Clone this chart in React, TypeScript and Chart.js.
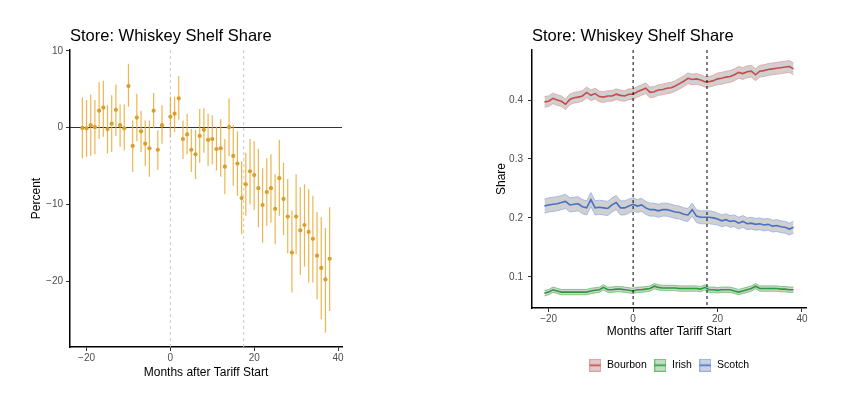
import React, { useEffect, useRef } from "react";
import { Chart, registerables } from "chart.js";

Chart.register(...registerables);

const FONT = "'Liberation Sans', Arial, Helvetica, sans-serif";

const chartTitle = "Store: Whiskey Shelf Share";
const xAxisTitle = "Months after Tariff Start";

// ---- Left panel: event-study estimates (percent) ----
const eventMonths = [
  -21, -20, -19, -18, -17, -16, -15, -14, -13, -12, -11, -10, -9, -8, -7, -6, -5, -4, -3, -2,
  0, 1, 2, 3, 4, 5, 6, 7, 8, 9, 10, 11, 12, 13, 14, 15, 16, 17, 18, 19,
  20, 21, 22, 23, 24, 25, 26, 27, 28, 29, 30, 31, 32, 33, 34, 35, 36, 37, 38,
];
const estimate = [
  -0.05, -0.1, 0.3, 0.05, 2.2, 2.6, -0.2, 0.5, 2.3, 0.3, -0.1, 5.4, -2.4, 1.3, -0.5, -2.1, -2.7, 2.2, -2.9, 0.3,
  1.4, 1.8, 3.8, -1.5, -0.9, -2.9, -3.5, -1.1, -0.3, -1.6, -1.5, -2.8, -2.7, -5.1, 0.05, -3.7, -4.7, -9.2, -7.4, -5.7,
  -6.2, -7.9, -10.1, -8.4, -7.9, -10.6, -6.6, -9.3, -11.6, -16.3, -11.6, -13.4, -12.7, -13.6, -14.5, -16.7, -18.3, -19.8, -17.1,
];
const ciLow = [
  -4.0, -3.8, -3.7, -3.5, -1.5, -1.2, -3.4, -3.2, -1.1, -2.5, -3.0, 2.7, -5.8, -1.8, -3.2, -5.0, -6.4, -0.1, -5.5, -2.1,
  -1.3, -0.6, 1.0, -4.1, -3.5, -5.8, -6.7, -4.6, -3.3, -5.0, -4.8, -5.6, -6.4, -8.7, -3.7, -7.6, -8.9, -13.9, -11.5, -10.0,
  -10.7, -13.0, -15.0, -12.8, -12.4, -15.2, -11.5, -14.0, -16.4, -21.5, -16.5, -19.2, -18.1, -20.2, -20.2, -22.4, -25.0, -26.7, -23.9,
];
const ciHigh = [
  3.9, 3.6, 4.3, 3.6, 5.9, 6.1, 2.9, 4.2, 5.6, 3.0, 3.0, 8.3, 0.9, 4.4, 2.2, 0.9, 0.9, 4.5, -0.4, 2.9,
  4.0, 4.0, 6.7, 0.9, 1.8, -0.2, -0.3, 2.4, 2.5, 1.8, 1.6, 0.1, 1.1, -1.5, 3.8, 0.3, -0.5, -4.4, -3.3, -1.5,
  -1.8, -2.8, -5.3, -4.0, -3.5, -6.1, -1.6, -4.6, -6.7, -10.8, -6.1, -7.8, -7.4, -8.0, -8.9, -11.0, -11.7, -13.1, -10.4,
];

// ---- Right panel: shelf share by type ----
const shareMonths = [
  -21, -20, -19, -18, -17, -16, -15, -14, -13, -12, -11, -10, -9, -8, -7, -6, -5, -4, -3, -2, -1,
  0, 1, 2, 3, 4, 5, 6, 7, 8, 9, 10, 11, 12, 13, 14, 15, 16, 17, 18, 19,
  20, 21, 22, 23, 24, 25, 26, 27, 28, 29, 30, 31, 32, 33, 34, 35, 36, 37, 38,
];
const bourbon = [
  0.397, 0.398, 0.403, 0.4, 0.398, 0.393, 0.401, 0.404, 0.405, 0.407, 0.413, 0.408, 0.411, 0.406, 0.405, 0.407, 0.407, 0.41, 0.408, 0.407, 0.41,
  0.41, 0.414, 0.417, 0.42, 0.413, 0.414, 0.417, 0.418, 0.42, 0.421, 0.424, 0.428, 0.432, 0.437, 0.435, 0.436, 0.434, 0.431, 0.431, 0.433,
  0.436, 0.437, 0.439, 0.44, 0.443, 0.447, 0.445, 0.448, 0.449, 0.443, 0.449, 0.45, 0.452, 0.453, 0.454, 0.455, 0.456, 0.457, 0.453,
];
const irish = [
  0.072, 0.074, 0.078, 0.076, 0.074, 0.074, 0.074, 0.074, 0.074, 0.074, 0.074, 0.076, 0.077, 0.078, 0.082, 0.078, 0.078, 0.079, 0.079, 0.078, 0.077,
  0.076, 0.078, 0.078, 0.079, 0.08, 0.084, 0.082, 0.081, 0.081, 0.081, 0.081, 0.08, 0.08, 0.08, 0.08, 0.08, 0.079, 0.082, 0.078, 0.078,
  0.077, 0.078, 0.078, 0.078, 0.076, 0.074, 0.076, 0.078, 0.08, 0.084, 0.08, 0.08, 0.08, 0.08, 0.08, 0.079, 0.079, 0.078, 0.078,
];
const scotch = [
  0.22, 0.222, 0.223, 0.224, 0.226, 0.228, 0.222, 0.223, 0.224, 0.219, 0.217, 0.231, 0.217, 0.218, 0.217, 0.216, 0.222, 0.226, 0.217, 0.217, 0.22,
  0.223, 0.22, 0.222, 0.217, 0.214, 0.214, 0.212, 0.214, 0.214, 0.212, 0.21, 0.209, 0.206, 0.205, 0.214, 0.203, 0.201, 0.201, 0.201, 0.2,
  0.198, 0.195, 0.197, 0.194, 0.195, 0.191, 0.194, 0.19, 0.191, 0.189, 0.19, 0.188, 0.189, 0.186, 0.187, 0.185, 0.184, 0.181, 0.184,
];
// half-widths of the confidence bands
const bourbonHw = [
  0.009, 0.009, 0.009, 0.009, 0.009, 0.009, 0.009, 0.009, 0.009, 0.009, 0.009, 0.009, 0.009, 0.009, 0.009, 0.009, 0.009, 0.009, 0.009, 0.009, 0.009,
  0.009, 0.009, 0.009, 0.009, 0.009, 0.009, 0.009, 0.009, 0.009, 0.009, 0.009, 0.009, 0.009, 0.009, 0.009, 0.009, 0.009, 0.009, 0.009, 0.009,
  0.01, 0.01, 0.01, 0.01, 0.01, 0.01, 0.01, 0.01, 0.01, 0.01, 0.01, 0.01, 0.01, 0.01, 0.01, 0.01, 0.01, 0.01, 0.01,
];
const irishHw = [
  0.0045, 0.0045, 0.0045, 0.0045, 0.0045, 0.0045, 0.0045, 0.0045, 0.0045, 0.0045, 0.0045, 0.0045, 0.0045, 0.0045, 0.0045, 0.0045, 0.0045, 0.0045, 0.0045, 0.0045, 0.0045,
  0.0045, 0.0045, 0.0045, 0.0045, 0.0045, 0.0045, 0.0045, 0.0045, 0.0045, 0.0045, 0.0045, 0.0045, 0.0045, 0.0045, 0.0045, 0.0045, 0.0045, 0.0045, 0.0045, 0.0045,
  0.0045, 0.0045, 0.0045, 0.0045, 0.0045, 0.0045, 0.0045, 0.0045, 0.0045, 0.0045, 0.0045, 0.0045, 0.0045, 0.0045, 0.0045, 0.0045, 0.0045, 0.0045, 0.0045,
];
const scotchHw = [
  0.012, 0.012, 0.012, 0.012, 0.012, 0.012, 0.012, 0.012, 0.012, 0.012, 0.012, 0.012, 0.012, 0.012, 0.012, 0.012, 0.012, 0.012, 0.012, 0.012, 0.012,
  0.011, 0.011, 0.011, 0.011, 0.011, 0.011, 0.011, 0.011, 0.011, 0.011, 0.011, 0.011, 0.011, 0.011, 0.011, 0.011, 0.011, 0.011, 0.011, 0.011,
  0.01, 0.01, 0.01, 0.01, 0.01, 0.01, 0.01, 0.01, 0.01, 0.01, 0.01, 0.01, 0.01, 0.01, 0.01, 0.01, 0.01, 0.01, 0.01,
];
const seriesNames = ["Bourbon", "Irish", "Scotch"];

const xTickValues = [-20, 0, 20, 40];
const pctTickValues = [-20, -10, 0, 10];
const shareTickValues = [0.1, 0.2, 0.3, 0.4];
const eventLines = [0, 17.5];

const fmtNum = (v: number) => (v < 0 ? "\u2212" + Math.abs(v) : String(v));

function makeTitlePlugin(text: string) {
  return {
    id: "panelTitle",
    afterDraw(chart: any) {
      const { ctx, chartArea } = chart;
      ctx.save();
      ctx.font = `16.5px ${FONT}`;
      ctx.fillStyle = "#000";
      ctx.textAlign = "left";
      ctx.textBaseline = "alphabetic";
      ctx.fillText(text, chartArea.left, 41);
      ctx.restore();
    },
  };
}

type RefLine = { axis: "x" | "y"; value: number; color: string; width: number; dash: number[]; below: boolean };

function makeRefLines(lines: RefLine[]) {
  const draw = (chart: any, below: boolean) => {
    const { ctx, chartArea: ca, scales } = chart;
    ctx.save();
    ctx.beginPath();
    ctx.rect(ca.left, ca.top, ca.right - ca.left, ca.bottom - ca.top);
    ctx.clip();
    for (const l of lines) {
      if (l.below !== below) continue;
      ctx.strokeStyle = l.color;
      ctx.lineWidth = l.width;
      ctx.setLineDash(l.dash);
      ctx.beginPath();
      if (l.axis === "x") {
        const px = scales.x.getPixelForValue(l.value);
        ctx.moveTo(px, ca.top);
        ctx.lineTo(px, ca.bottom);
      } else {
        const py = scales.y.getPixelForValue(l.value);
        ctx.moveTo(ca.left, py);
        ctx.lineTo(ca.right, py);
      }
      ctx.stroke();
    }
    ctx.restore();
  };
  return {
    id: "refLines",
    beforeDatasetsDraw(chart: any) {
      draw(chart, true);
    },
    afterDatasetsDraw(chart: any) {
      draw(chart, false);
    },
  };
}

const tickFont = { family: FONT, size: 10 };
const axisTitleFont = { family: FONT, size: 12 };
const gridTicks = { display: true, drawOnChartArea: false, drawTicks: true, tickLength: 4, color: "#333", lineWidth: 1, offset: false };
const axisBorder = { display: true, color: "#000", width: 1.5 };

function makeKey(fill: string, edge: string, line: string) {
  const c = document.createElement("canvas");
  c.width = 12;
  c.height = 13;
  const g = c.getContext("2d")!;
  g.fillStyle = fill;
  g.fillRect(0.5, 0.5, 11, 12);
  g.strokeStyle = edge;
  g.lineWidth = 1;
  g.strokeRect(0.5, 0.5, 11, 12);
  g.strokeStyle = line;
  g.lineWidth = 1.6;
  g.beginPath();
  g.moveTo(0.5, 6.5);
  g.lineTo(11.5, 6.5);
  g.stroke();
  return c;
}

export default function App() {
  const leftRef = useRef<HTMLCanvasElement>(null);
  const rightRef = useRef<HTMLCanvasElement>(null);

  useEffect(() => {
    const ptColor = "#D99E2B";
    const barColor = "rgba(234, 168, 48, 0.85)";

    // error bars as vertical segments separated by gaps
    const whiskers: any[] = [];
    eventMonths.forEach((m, i) => {
      whiskers.push({ x: m, y: ciLow[i] }, { x: m, y: ciHigh[i] }, { x: m, y: null });
    });

    const left = new Chart(leftRef.current!, {
      type: "scatter",
      data: {
        datasets: [
          {
            type: "scatter",
            data: eventMonths.map((m, i) => ({ x: m, y: estimate[i] })),
            pointRadius: 2.1,
            pointBackgroundColor: ptColor,
            pointBorderWidth: 0,
            order: 0,
          } as any,
          {
            type: "line",
            data: whiskers,
            borderColor: barColor,
            borderWidth: 1.2,
            pointRadius: 0,
            spanGaps: false,
            fill: false,
            order: 1,
          } as any,
        ],
      },
      options: {
        animation: false,
        responsive: false,
        maintainAspectRatio: false,
        layout: { padding: { left: 0, right: 80, top: 50, bottom: 0 } },
        plugins: { legend: { display: false }, tooltip: { enabled: false } },
        scales: {
          x: {
            type: "linear",
            min: -23.95,
            max: 40.95,
            offset: false,
            afterBuildTicks: (s: any) => {
              s.ticks = xTickValues.map((v) => ({ value: v }));
            },
            afterFit: (s: any) => {
              s.height = 47;
            },
            grid: gridTicks,
            border: axisBorder,
            ticks: { font: tickFont, color: "#4D4D4D", padding: 1, maxRotation: 0, callback: (v: any) => fmtNum(Number(v)) },
            title: { display: true, text: xAxisTitle, font: axisTitleFont, color: "#000", padding: { top: 0, bottom: 14.5 } },
          },
          y: {
            type: "linear",
            min: -28.6,
            max: 10.1,
            afterBuildTicks: (s: any) => {
              s.ticks = pctTickValues.map((v) => ({ value: v }));
            },
            afterFit: (s: any) => {
              s.width = 70;
            },
            grid: gridTicks,
            border: axisBorder,
            ticks: { font: tickFont, color: "#4D4D4D", padding: 3, callback: (v: any) => fmtNum(Number(v)) },
            title: { display: true, text: "Percent", font: axisTitleFont, color: "#000", padding: { top: 29.8, bottom: 0 } },
          },
        },
      } as any,
      plugins: [
        makeTitlePlugin(chartTitle),
        makeRefLines([
          ...eventLines.map((v) => ({ axis: "x" as const, value: v, color: "#C8C8C8", width: 1, dash: [3, 3], below: true })),
          { axis: "y", value: 0, color: "#333", width: 1, dash: [], below: true },
        ]),
      ],
    });

    const seriesMeans = [bourbon, irish, scotch];
    const seriesHw = [bourbonHw, irishHw, scotchHw];
    const lineColors = ["#C94A4A", "#2E9B3B", "#4A6FC6"];
    const edgeColors = ["#E79C9C", "#66C06A", "#93AEE8"];
    const keyFills = ["#DFC9C9", "#C3DCC3", "#C9D1E4"];
    const bandFill = "rgba(150, 150, 150, 0.45)";
    const keys = seriesNames.map((_, i) => makeKey(keyFills[i], edgeColors[i], lineColors[i]));

    const datasets: any[] = [];
    seriesNames.forEach((name, k) => {
      const mean = seriesMeans[k];
      const hw = seriesHw[k];
      datasets.push({
        type: "line",
        label: name + " lower",
        data: shareMonths.map((m, i) => ({ x: m, y: mean[i] - hw[i] })),
        borderColor: edgeColors[k],
        borderWidth: 0.8,
        pointRadius: 0,
        fill: false,
        tension: 0,
        order: 2,
      });
      datasets.push({
        type: "line",
        label: name + " upper",
        data: shareMonths.map((m, i) => ({ x: m, y: mean[i] + hw[i] })),
        borderColor: edgeColors[k],
        borderWidth: 0.8,
        pointRadius: 0,
        fill: "-1",
        backgroundColor: bandFill,
        tension: 0,
        order: 2,
      });
      datasets.push({
        type: "line",
        label: name,
        data: shareMonths.map((m, i) => ({ x: m, y: mean[i] })),
        borderColor: lineColors[k],
        borderWidth: 1.6,
        pointRadius: 0,
        fill: false,
        tension: 0,
        order: 1,
      });
    });

    const right = new Chart(rightRef.current!, {
      type: "scatter",
      data: { datasets },
      options: {
        animation: false,
        responsive: false,
        maintainAspectRatio: false,
        layout: { padding: { left: 70, right: 38, top: 50, bottom: 13.5 } },
        plugins: {
          tooltip: { enabled: false },
          legend: {
            display: true,
            position: "bottom",
            fullSize: false,
            align: "center",
            onClick: () => {},
            labels: {
              usePointStyle: true,
              pointStyleWidth: 13,
              padding: 7,
              color: "#000",
              font: { family: FONT, size: 10.5 },
              generateLabels: () =>
                seriesNames.map((n, i) => ({
                  text: n,
                  pointStyle: keys[i],
                  fillStyle: keyFills[i],
                  strokeStyle: edgeColors[i],
                  lineWidth: 0,
                  hidden: false,
                  datasetIndex: i * 3 + 2,
                })),
            },
          },
        },
        scales: {
          x: {
            type: "linear",
            min: -23.95,
            max: 40.95,
            offset: false,
            afterBuildTicks: (s: any) => {
              s.ticks = xTickValues.map((v) => ({ value: v }));
            },
            afterFit: (s: any) => {
              s.height = 45;
            },
            grid: gridTicks,
            border: axisBorder,
            ticks: { font: tickFont, color: "#4D4D4D", padding: 1, maxRotation: 0, callback: (v: any) => fmtNum(Number(v)) },
            title: { display: true, text: xAxisTitle, font: axisTitleFont, color: "#000", padding: { top: 0, bottom: 14.1 } },
          },
          y: {
            type: "linear",
            min: 0.047,
            max: 0.485,
            afterBuildTicks: (s: any) => {
              s.ticks = shareTickValues.map((v) => ({ value: v }));
            },
            afterFit: (s: any) => {
              s.width = 40;
            },
            grid: gridTicks,
            border: axisBorder,
            ticks: { font: tickFont, color: "#4D4D4D", padding: 5, callback: (v: any) => Number(v).toFixed(1) },
            title: { display: true, text: "Share", font: axisTitleFont, color: "#000", padding: { top: 2.3, bottom: 0 } },
          },
        },
      } as any,
      plugins: [
        makeTitlePlugin(chartTitle),
        makeRefLines(eventLines.map((v) => ({ axis: "x" as const, value: v, color: "#000", width: 1, dash: [3, 3], below: false }))),
      ],
    });

    return () => {
      left.destroy();
      right.destroy();
    };
  }, []);

  return (
    <div style={{ position: "absolute", left: 0, top: 0, width: 844, height: 394, background: "#fff" }}>
      <canvas ref={leftRef} width={422} height={394} style={{ position: "absolute", left: 0, top: 0, display: "block" }} />
      <canvas ref={rightRef} width={422} height={394} style={{ position: "absolute", left: 422, top: 0, display: "block" }} />
    </div>
  );
}
